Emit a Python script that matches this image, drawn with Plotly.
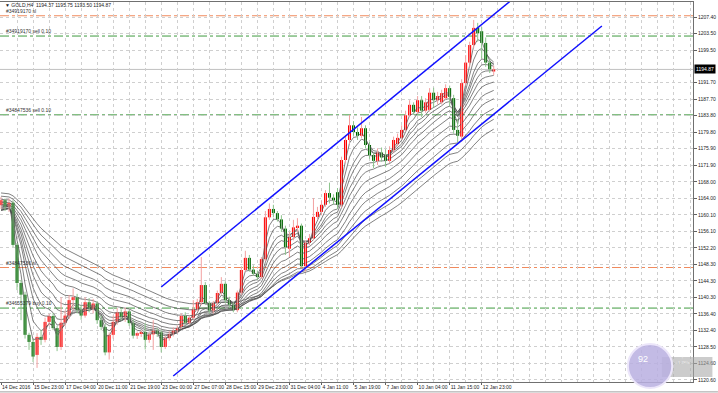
import plotly.graph_objects as go

# ---------------- data ----------------
opens = [1162.4,1163.6,1162.0,1163.0,1152.9,1143.8,1141.0,1131.4,1129.7,1126.6,
         1130.9,1130.2,1134.5,1135.9,1133.0,1128.5,1134.3,1136.0,1139.7,1140.4,
         1137.3,1136.0,1139.2,1137.6,1138.9,1134.9,1133.3,1127.2,1131.4,1134.5,
         1136.8,1135.6,1137.0,1134.2,1131.2,1131.8,1132.1,1130.2,1131.5,1132.4,
         1132.0,1128.5,1130.6,1131.6,1132.4,1133.3,1135.9,1134.3,1135.5,1137.5,
         1139.2,1143.3,1139.0,1137.2,1139.0,1141.4,1143.6,1139.7,1138.6,1137.3,
         1141.5,1146.9,1149.8,1147.0,1146.0,1145.2,1149.5,1159.5,1161.5,1160.5,
         1159.0,1156.8,1152.0,1154.8,1157.1,1157.5,1147.8,1153.4,1154.5,1159.6,
         1160.8,1162.5,1165.3,1164.2,1165.5,1162.5,1173.2,1178.0,1181.5,1179.9,
         1179.0,1180.8,1176.8,1174.4,1173.0,1175.0,1174.5,1173.0,1175.6,1177.0,
         1178.5,1180.4,1183.9,1186.4,1184.7,1187.5,1185.0,1185.2,1189.3,1187.5,
         1187.0,1188.0,1190.4,1188.0,1180.4,1178.8,1191.6,1196.5,1200.7,1204.8,
         1204.0,1201.2,1196.5,1194.37]
highs = [1164.4,1164.0,1164.0,1163.6,1153.4,1144.5,1141.7,1131.9,1130.4,1131.8,
         1132.6,1135.5,1136.4,1136.6,1133.6,1140.4,1137.2,1140.9,1142.5,1141.2,
         1138.5,1140.4,1140.2,1140.0,1139.5,1136.0,1134.0,1132.0,1136.0,1137.8,
         1137.5,1137.9,1137.4,1135.0,1132.2,1132.5,1134.2,1132.0,1134.9,1133.0,
         1132.6,1131.2,1132.3,1133.2,1133.6,1136.5,1136.8,1136.0,1139.7,1140.0,
         1150.0,1144.0,1139.5,1139.5,1142.0,1145.2,1144.2,1140.5,1139.2,1142.0,
         1147.5,1151.5,1150.5,1148.0,1146.8,1150.0,1161.0,1162.8,1162.5,1161.0,
         1160.0,1157.5,1156.0,1158.9,1159.3,1158.0,1154.0,1155.5,1164.1,1162.0,
         1163.5,1166.0,1167.8,1165.0,1166.5,1174.0,1179.0,1184.0,1182.5,1181.0,
         1183.5,1181.5,1177.5,1175.0,1176.0,1176.2,1175.8,1176.5,1178.8,1179.5,
         1181.5,1185.0,1187.5,1187.0,1188.5,1188.5,1188.0,1190.4,1190.5,1189.5,
         1190.0,1191.3,1191.0,1188.8,1183.0,1192.5,1198.3,1201.5,1206.7,1206.0,
         1205.0,1202.5,1197.2,1195.75]
lows = [1161.5,1161.0,1160.8,1152.4,1142.1,1134.9,1130.5,1127.8,1124.9,1123.5,
        1129.0,1129.6,1133.5,1132.5,1127.5,1127.8,1133.5,1135.2,1137.3,1136.5,
        1135.0,1135.5,1136.8,1136.5,1134.0,1132.5,1126.5,1125.5,1130.5,1133.8,
        1134.8,1134.5,1133.5,1130.5,1130.4,1130.9,1127.9,1129.5,1127.8,1130.9,
        1127.2,1128.0,1130.0,1131.0,1131.8,1132.8,1133.8,1133.8,1135.0,1137.0,
        1138.5,1138.5,1136.5,1136.5,1138.5,1141.0,1139.0,1137.8,1136.8,1136.8,
        1141.0,1146.5,1146.5,1145.5,1144.5,1144.8,1149.0,1158.9,1159.5,1158.5,
        1156.0,1150.5,1150.0,1154.0,1156.0,1147.5,1146.5,1152.8,1154.0,1159.0,
        1160.0,1162.0,1162.8,1162.5,1161.5,1161.8,1172.5,1177.0,1179.0,1178.0,
        1178.5,1176.0,1173.5,1171.3,1172.0,1172.8,1171.5,1172.5,1175.0,1176.5,
        1178.0,1180.0,1183.5,1184.0,1184.2,1183.5,1184.5,1184.8,1185.8,1186.5,
        1186.5,1187.5,1186.0,1179.5,1177.3,1177.6,1191.0,1195.5,1200.0,1201.5,
        1197.5,1195.5,1194.0,1193.50]
closes = [1163.6,1162.0,1163.0,1152.9,1143.8,1141.0,1131.4,1129.7,1126.2,1130.9,
          1130.2,1134.5,1135.9,1133.0,1128.5,1134.3,1136.0,1139.7,1140.4,1137.3,
          1136.0,1139.2,1137.6,1138.9,1134.9,1133.3,1127.2,1131.4,1134.5,1136.8,
          1135.6,1137.0,1134.2,1131.2,1131.8,1132.1,1130.2,1131.5,1132.4,1131.6,
          1128.5,1130.6,1131.6,1132.4,1133.0,1135.9,1134.3,1135.5,1137.5,1139.2,
          1143.3,1139.0,1137.2,1139.0,1141.4,1143.6,1139.7,1138.6,1137.3,1141.5,
          1146.9,1149.8,1147.0,1146.0,1145.2,1149.5,1159.5,1161.5,1160.5,1159.0,
          1156.8,1152.4,1154.8,1157.1,1157.5,1147.8,1153.4,1154.5,1159.6,1160.8,
          1162.5,1165.3,1164.2,1163.6,1162.5,1173.2,1178.0,1181.5,1179.9,1179.0,
          1180.8,1176.8,1174.4,1173.0,1175.0,1173.8,1173.0,1175.6,1178.0,1178.5,
          1180.4,1183.9,1186.4,1184.7,1187.5,1185.0,1187.0,1189.3,1187.5,1188.5,
          1189.2,1190.4,1188.3,1180.4,1179.0,1191.6,1196.5,1200.7,1204.8,1203.5,
          1201.2,1196.5,1194.9,1194.87]

# moving-average ribbon: periods and the level each line had just before the first bar
ma_periods = [3, 5, 8, 10, 13, 16, 20, 25, 30, 36, 43, 50]
ma_start = [1161.0, 1160.8, 1160.6, 1160.6, 1160.8, 1161.2, 1161.8, 1162.4, 1163.1, 1163.8, 1164.6, 1165.4]

# date labels (every 8th bar)
date_bars = [0, 8, 16, 24, 32, 40, 48, 56, 64, 72, 80, 88, 96, 104, 112, 120]
date_labels = ["14 Dec 2016", "15 Dec 23:00", "17 Dec 04:00", "20 Dec 11:00", "21 Dec 19:00",
               "23 Dec 00:00", "27 Dec 07:00", "28 Dec 15:00", "29 Dec 23:00", "31 Dec 04:00",
               "4 Jan 11:00", "5 Jan 19:00", "7 Jan 00:00", "10 Jan 04:00", "11 Jan 15:00",
               "12 Jan 23:00"]

# price scale labels
price_ticks = [1207.40, 1203.50, 1199.50, 1191.70, 1187.70, 1183.80, 1179.80, 1175.90,
               1171.90, 1168.00, 1164.00, 1160.10, 1156.10, 1152.20, 1148.30, 1144.30,
               1140.30, 1136.40, 1132.40, 1128.50, 1124.60, 1120.60]

# order lines (price, label, kind)
order_prices = [1207.7, 1202.85, 1184.0, 1147.5, 1137.8]
order_labels = ["#34919170 sl", "#34919170 sell 0.10", "#34847536 sell 0.10",
                "#34847536 sl", "#34655379 buy 0.10"]
order_kinds = ["sl", "order", "order", "sl", "order"]

# channel lines: (bar, price) anchor pairs
channel_upper = [(40.0, 1142.84), (127.0, 1211.1)]
channel_lower = [(43.0, 1121.56), (150.0, 1205.25)]

last_price = 1194.87
title_text = "\u25bc GOLD,H4  1194.37 1195.75 1193.50 1194.87"

# ---------------- figure ----------------
n = len(closes)
idx = list(range(n))
FONT = "Liberation Sans"

fig = go.Figure()

# moving averages
for period, start in zip(ma_periods, ma_start):
    a = 2.0 / (period + 1)
    v = start
    vals = []
    for c in closes:
        v = v + a * (c - v)
        vals.append(v)
    fig.add_trace(go.Scatter(x=idx, y=vals, mode="lines",
                             line=dict(color="#4a4a4a", width=0.7),
                             hoverinfo="skip", showlegend=False))

# wicks
for up in (True, False):
    xs, ys = [], []
    for i in idx:
        if (closes[i] >= opens[i]) == up:
            xs += [i, i, None]
            ys += [lows[i], highs[i], None]
    fig.add_trace(go.Scatter(x=xs, y=ys, mode="lines",
                             line=dict(color="#f2a0a0" if up else "#8cc48c", width=1),
                             hoverinfo="skip", showlegend=False))

# bodies
for up in (True, False):
    bx, bb, bh = [], [], []
    for i in idx:
        if (closes[i] >= opens[i]) == up:
            bx.append(i)
            bb.append(min(opens[i], closes[i]))
            bh.append(max(abs(closes[i] - opens[i]), 0.25))
    fig.add_trace(go.Bar(x=bx, y=bh, base=bb, width=0.75,
                         marker=dict(color="#ff0000" if up else "#006400", line=dict(width=0)),
                         hoverinfo="skip", showlegend=False))

# channel lines
for ch in (channel_upper, channel_lower):
    fig.add_trace(go.Scatter(x=[p[0] for p in ch], y=[p[1] for p in ch], mode="lines",
                             line=dict(color="#1010ff", width=1.5),
                             hoverinfo="skip", showlegend=False))

shapes = []
annotations = []
# order lines
for price, label, kind in zip(order_prices, order_labels, order_kinds):
    col = "#f08a5d" if kind == "sl" else "#3f9a3f"
    shapes.append(dict(type="line", xref="paper", x0=0, x1=1, yref="y", y0=price, y1=price,
                       line=dict(color=col, width=1, dash="dashdot"), layer="below"))
    annotations.append(dict(xref="paper", x=0.006, yref="y", y=price, text=label,
                            showarrow=False, xanchor="left", yanchor="bottom", yshift=0,
                            font=dict(family=FONT, size=5, color="#333333")))
# bid line
shapes.append(dict(type="line", xref="paper", x0=0, x1=1, yref="y", y0=last_price, y1=last_price,
                   line=dict(color="#c0c0c0", width=1), layer="below"))
# last price box
annotations.append(dict(xref="paper", x=1.0, yref="y", y=last_price, text=f"{last_price:.2f}",
                        showarrow=False, xanchor="left", yanchor="middle", xshift=1,
                        bgcolor="#000000", font=dict(family=FONT, size=5, color="#ffffff"),
                        borderpad=1))
# title
annotations.append(dict(xref="paper", x=0.004, yref="paper", y=0.992, text=title_text,
                        showarrow=False, xanchor="left", yanchor="middle",
                        font=dict(family=FONT, size=5, color="#222222")))

# overlay bubble (bottom right)
shapes.append(dict(type="rect", xref="paper", yref="paper", x0=0.955, x1=1.028, y0=0.013, y1=0.066,
                   fillcolor="rgba(170,170,170,0.6)", line=dict(width=0)))
shapes.append(dict(type="circle", xref="paper", yref="paper", x0=0.906, x1=0.970, y0=-0.016, y1=0.100,
                   fillcolor="rgba(185,175,225,0.85)", line=dict(color="#ece6fa", width=2)))
annotations.append(dict(xref="paper", yref="paper", x=0.938, y=0.042, text="92",
                        showarrow=False, font=dict(family=FONT, size=9, color="#ffffff")))
annotations.append(dict(xref="paper", yref="paper", x=0.984, y=0.040, text="\u2191<br>\u2193 1.7K/s",
                        showarrow=False, xanchor="center", font=dict(family=FONT, size=4, color="#eeeeee")))
# bottom strip
shapes.append(dict(type="line", xref="paper", yref="paper", x0=0, x1=1.036, y0=-0.026, y1=-0.026,
                   line=dict(color="#a0a0a0", width=1)))

fig.update_layout(
    width=718, height=393,
    margin=dict(l=0, r=25, t=2, b=11),
    paper_bgcolor="#ffffff", plot_bgcolor="#ffffff",
    showlegend=False, barmode="overlay",
    shapes=shapes, annotations=annotations,
    font=dict(family=FONT, size=5, color="#222222"),
    xaxis=dict(range=[-0.25, 172.75], tickmode="array", tickvals=date_bars, ticktext=date_labels,
               ticklabelposition="outside right", tickangle=0, ticks="outside", ticklen=2,
               tickcolor="#606060",
               tickfont=dict(family=FONT, size=5, color="#222222"),
               showgrid=True, gridcolor="#cfcfcf", griddash="dot", gridwidth=1,
               minor=dict(tickmode="linear", tick0=0, dtick=4, showgrid=True,
                          gridcolor="#cfcfcf", griddash="dot", gridwidth=1, ticks=""),
               showline=True, linecolor="#707070", mirror=True, zeroline=False, fixedrange=True),
    yaxis=dict(range=[1120.12, 1210.99], side="right", tickmode="array", tickvals=price_ticks,
               ticktext=[f"{v:.2f}" for v in price_ticks], ticks="outside", ticklen=3,
               tickcolor="#606060", tickfont=dict(family=FONT, size=5, color="#222222"),
               showgrid=True, gridcolor="#cfcfcf", griddash="dot", gridwidth=1,
               showline=True, linecolor="#707070", mirror=True, zeroline=False, fixedrange=True),
)

fig.write_html("out.html")
